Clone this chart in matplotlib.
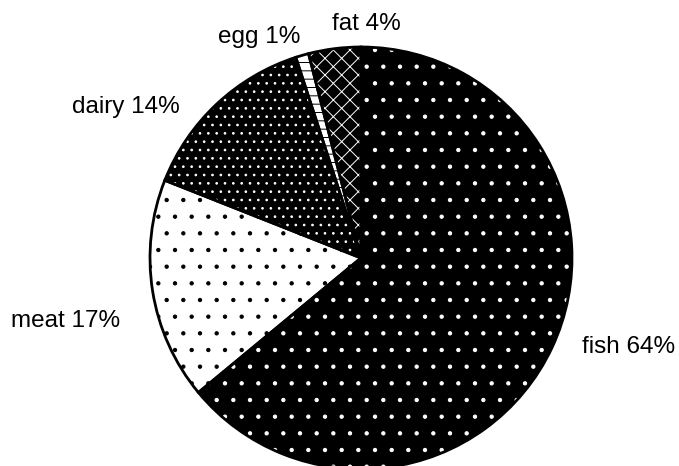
import numpy as np
import matplotlib.pyplot as plt

plt.rcParams['font.family'] = ['Liberation Sans', 'DejaVu Sans']
plt.rcParams['hatch.linewidth'] = 0.7

foods = ['fish', 'meat', 'dairy', 'egg', 'fat']
shares = [64, 17, 14, 1, 4]

# fill / hatch colour / hatch for each slice
faces = ['black', 'white', 'black', 'white', 'black']
hatch_cols = ['white', 'black', 'white', 'black', 'white']
hatches = ['.', '.', '..', '--', 'xx']

# label anchor (data units, radius = 1) and alignment
label_xy = [(1.047, -0.450), (-1.142, -0.327), (-0.858, 0.687), (-0.289, 1.019), (-0.137, 1.081)]
label_ha = ['left', 'right', 'right', 'right', 'left']

fig = plt.figure(figsize=(6.79, 4.66), dpi=100)
ax = fig.add_axes([0, 0, 1, 1])

wedges, _ = ax.pie(shares, startangle=90, counterclock=False,
                   wedgeprops=dict(linewidth=0))
for w, fc, hc, h in zip(wedges, faces, hatch_cols, hatches):
    w.set_facecolor(fc)
    w.set_edgecolor(hc)
    w.set_hatch(h)

# black outlines on top
outl, _ = ax.pie(shares, startangle=90, counterclock=False,
                 wedgeprops=dict(fill=False, edgecolor='black', linewidth=2))

for name, s, (x, y), ha in zip(foods, shares, label_xy, label_ha):
    ax.text(x, y, f'{name} {s}%', ha=ha, va='baseline', fontsize=17.5)

ax.set_aspect('auto')
ax.set_xlim(-361 / 211, (679 - 361) / 211)
ax.set_ylim(-208 / 211, 258 / 211)
ax.axis('off')

fig.savefig('out.png', dpi=100)
